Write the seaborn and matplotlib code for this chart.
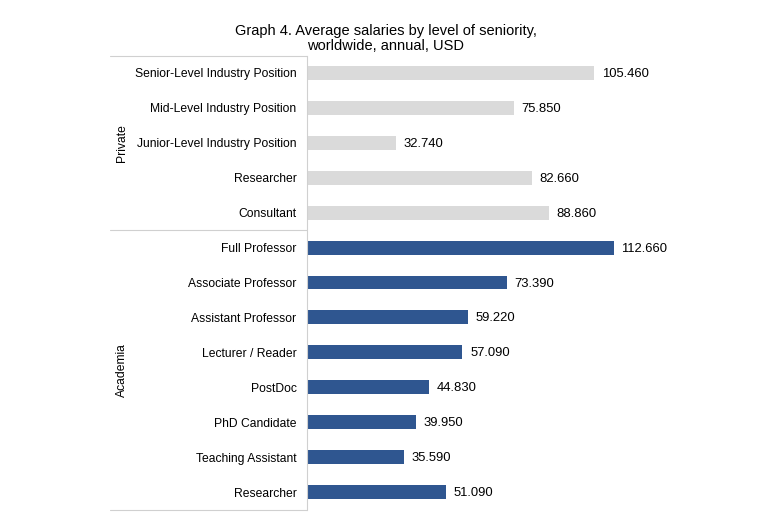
"""Graph 4: average salaries by level of seniority."""
import matplotlib
matplotlib.use("Agg")
import matplotlib.pyplot as plt
import pandas as pd
import seaborn as sns

GROUPS = ["Private"] * 5 + ["Academia"] * 8
POSITIONS = [
    "Senior-Level Industry Position",
    "Mid-Level Industry Position",
    "Junior-Level Industry Position",
    "Researcher",
    "Consultant",
    "Full Professor",
    "Associate Professor",
    "Assistant Professor",
    "Lecturer / Reader",
    "PostDoc",
    "PhD Candidate",
    "Teaching Assistant",
    "Researcher",
]
SALARIES = [105460, 75850, 32740, 82660, 88860,
            112660, 73390, 59220, 57090, 44830, 39950, 35590, 51090]

COLORS = {"Private": "#dadada", "Academia": "#2f5690"}

df = pd.DataFrame({"group": GROUPS, "position": POSITIONS, "salary": SALARIES})
df["row"] = df["group"] + "|" + df["position"]

sns.set_style("white")
plt.rcParams["font.family"] = ["Liberation Sans", "DejaVu Sans"]
plt.rcParams["text.color"] = "black"
plt.rcParams["ytick.color"] = "black"

fig = plt.figure(figsize=(7.67, 5.13), dpi=100)
ax = fig.add_axes([0.400, 0.0068, 0.5125, 0.885])

sns.barplot(data=df, y="row", x="salary", hue="group", palette=COLORS,
            orient="h", width=0.4, dodge=False, legend=False, saturation=1,
            linewidth=0, ax=ax)

ax.set_xlim(0, 144220)
ax.set_ylim(len(df) - 0.5, -0.5)
ax.set_yticks(range(len(df)))
ax.set_yticklabels(df["position"], fontsize=8.7)
ax.tick_params(axis="y", length=0, pad=7.5)
ax.set_xticks([])
ax.set_xlabel("")
ax.set_ylabel("")
for side in ["top", "right", "bottom"]:
    ax.spines[side].set_visible(False)
ax.spines["left"].set_color("#d0d0d0")
ax.spines["left"].set_linewidth(0.8)

for i, v in enumerate(df["salary"]):
    label = f"{v:,}".replace(",", ".")
    ax.text(v + 2800, i + 0.03, label, va="center", ha="left", fontsize=9.4)

# group brackets on the left
line_kw = dict(color="#d0d0d0", lw=0.8, clip_on=False, transform=ax.get_yaxis_transform())
n_private = GROUPS.count("Private")
for yb in [-0.5, n_private - 0.5, len(df) - 0.5]:
    ax.plot([-0.5, 0], [yb, yb], **line_kw)
ax.text(-0.47, (n_private - 1) / 2, "Private", rotation=90, va="center", ha="center",
        fontsize=8.7, transform=ax.get_yaxis_transform())
ax.text(-0.47, n_private + (len(df) - n_private - 1) / 2, "Academia", rotation=90,
        va="center", ha="center", fontsize=8.7, transform=ax.get_yaxis_transform())

fig.suptitle("Graph 4. Average salaries by level of seniority,\nworldwide, annual, USD",
             x=0.503, y=0.954, fontsize=10.5, linespacing=1.15)

fig.savefig("out.png", dpi=100)
